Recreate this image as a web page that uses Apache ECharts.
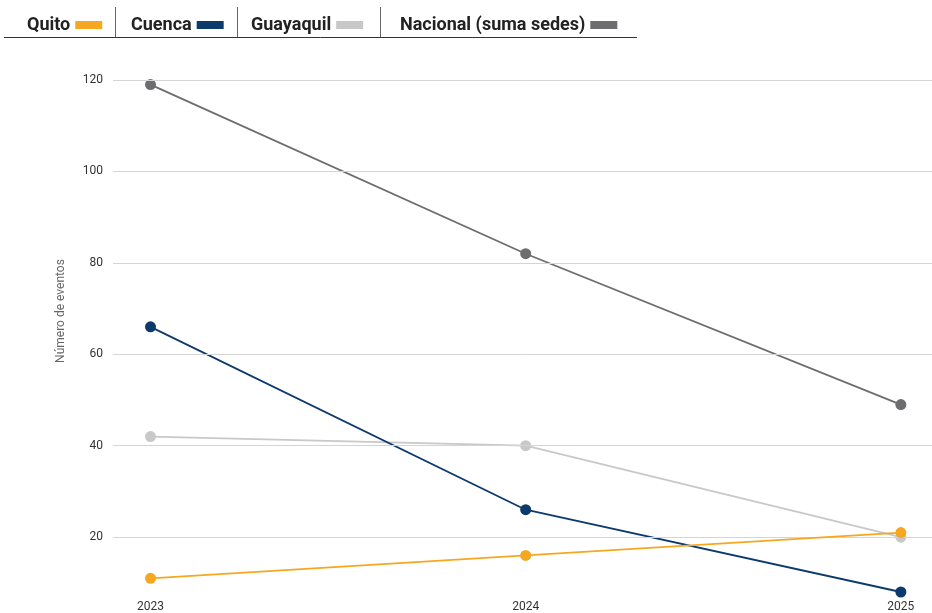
<!DOCTYPE html>
<html><head><meta charset="utf-8">
<script src="https://cdn.jsdelivr.net/npm/echarts@6/dist/echarts.min.js"></script>
<style>html,body{margin:0;padding:0;background:#fff}#c{width:932px;height:613px}</style>
</head><body><div id="c"></div>
<script>
const years = [2023, 2024, 2025];
const quito = [11, 16, 21];
const cuenca = [66, 26, 8];
const guayaquil = [42, 40, 20];
const nacional = [119, 82, 49];
const yTicks = [20, 40, 60, 80, 100, 120];
const names = ['Quito', 'Cuenca', 'Guayaquil', 'Nacional (suma sedes)'];
const colors = ['#f5a81f', '#0c3a6c', '#c8c8c8', '#6d6d70'];
const FONT = '"Liberation Sans Narrow", Roboto, sans-serif';

const chart = echarts.init(document.getElementById('c'));
const legendLefts = [22, 126, 246, 395];
const legends = names.map((n, i) => ({
  left: legendLefts[i], top: 11, data: [n], align: 'right',
  itemWidth: 27, itemHeight: 8, icon: 'rect',
  textStyle: {fontFamily: FONT, fontWeight: 'bold', fontSize: 18, color: '#222'}
}));
const seriesData = [quito, cuenca, guayaquil, nacional];
const zs = [5, 3, 2, 2];
const series = names.map((n, i) => ({
  name: n, type: 'line', z: zs[i],
  data: years.map((y, k) => [y, seriesData[i][k]]),
  symbol: 'circle', symbolSize: 11,
  lineStyle: {width: 1.8, color: colors[i]},
  itemStyle: {color: colors[i]},
  emphasis: {disabled: true}
}));
series.push({
  type: 'line', data: [], silent: true, z: 0,
  markLine: {
    silent: true, symbol: 'none', label: {show: false},
    lineStyle: {color: '#d4d4d4', width: 1, type: 'solid'},
    data: yTicks.map(v => ({yAxis: v}))
  }
});
chart.setOption({
  animation: false,
  color: colors,
  legend: legends,
  grid: {left: 113, right: 0, top: 80, bottom: 21},
  xAxis: {
    type: 'value', min: 2022.9, max: 2025.083,
    axisLine: {show: false}, axisTick: {show: false}, splitLine: {show: false},
    axisLabel: {
      showMinLabel: false, showMaxLabel: false, margin: 9,
      fontFamily: FONT, fontSize: 12, color: '#333',
      formatter: v => (Math.abs(v - Math.round(v)) < 1e-6 && years.includes(Math.round(v))) ? String(Math.round(v)) : ''
    }
  },
  yAxis: {
    type: 'value', min: 8, max: 120,
    name: 'Número de eventos', nameLocation: 'middle', nameGap: 46,
    nameTextStyle: {fontFamily: FONT, fontSize: 12, color: '#666', padding: [0, 0, 0, 50]},
    axisLine: {show: false}, axisTick: {show: false}, splitLine: {show: false},
    axisLabel: {
      showMinLabel: false, margin: 10, fontFamily: FONT, fontSize: 12, color: '#333',
      formatter: v => yTicks.includes(v) ? String(v) : ''
    }
  },
  graphic: [
    {type: 'line', shape: {x1: 4, y1: 37.5, x2: 637, y2: 37.5}, style: {stroke: '#333', lineWidth: 1}},
    {type: 'line', shape: {x1: 115.5, y1: 7, x2: 115.5, y2: 37}, style: {stroke: '#666', lineWidth: 1}},
    {type: 'line', shape: {x1: 237.5, y1: 7, x2: 237.5, y2: 37}, style: {stroke: '#666', lineWidth: 1}},
    {type: 'line', shape: {x1: 380.5, y1: 7, x2: 380.5, y2: 37}, style: {stroke: '#666', lineWidth: 1}}
  ],
  series: series
});
</script></body></html>
